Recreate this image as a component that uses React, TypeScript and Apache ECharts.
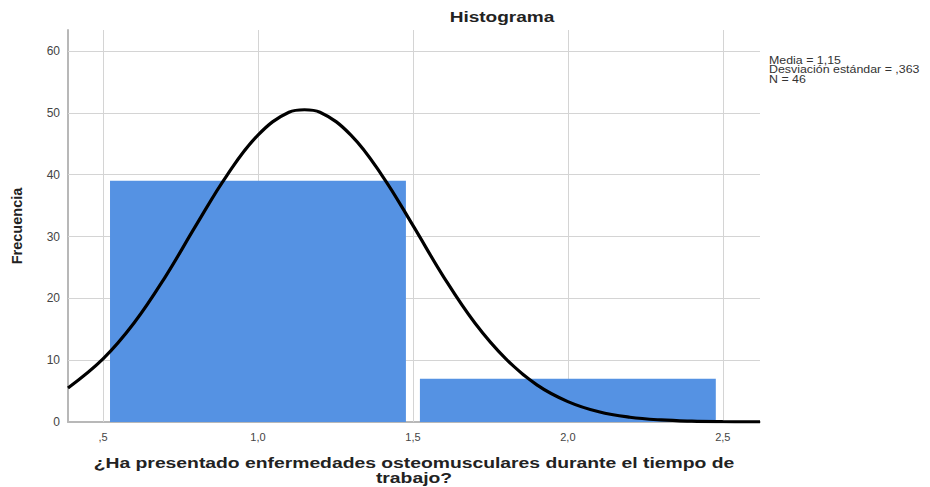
import React, { useEffect, useRef } from "react";
import * as echarts from "echarts";

const binStarts = [0.5, 1.5];
const binEnds = [1.5, 2.5];
const frequencies = [39, 7];

const curveX = [0.387, 0.5, 0.6, 0.7, 0.8, 0.9, 1.0, 1.1, 1.15, 1.2, 1.3, 1.4, 1.5, 1.6, 1.7, 1.8, 1.9, 2.0, 2.1, 2.2, 2.3, 2.4, 2.5, 2.62];
const curveY = [5.5, 10.2, 16.0, 23.4, 31.8, 39.9, 46.4, 50.1, 50.5, 50.1, 46.4, 39.9, 31.8, 23.4, 16.0, 10.2, 6.0, 3.3, 1.65, 0.77, 0.33, 0.13, 0.05, 0.01];

const xTickValues = [0.5, 1.0, 1.5, 2.0, 2.5];
const xTickLabels = [",5", "1,0", "1,5", "2,0", "2,5"];
const yTickValues = [0, 10, 20, 30, 40, 50, 60];

const titleText = "Histograma";
const xAxisTitleLines = ["¿Ha presentado enfermedades osteomusculares durante el tiempo de", "trabajo?"];
const yAxisTitle = "Frecuencia";
const statsLines = ["Media = 1,15", "Desviación estándar = ,363", "N = 46"];

const FONT = "'Liberation Sans', Arial, sans-serif";

export default function App() {
  const ref = useRef<HTMLDivElement>(null);
  useEffect(() => {
    if (!ref.current) return;
    const chart = echarts.init(ref.current, null, { renderer: "svg" });
    const barData = binStarts.map((s, i) => [s, binEnds[i], frequencies[i]]);
    const lineData = curveX.map((x, i) => [x, curveY[i]]);
    chart.setOption({
      animation: false,
      backgroundColor: "#ffffff",
      textStyle: { fontFamily: FONT },
      grid: { left: 68, right: 170, top: 30, bottom: 65, containLabel: false, outerBoundsMode: "none" },
      xAxis: {
        type: "value",
        min: 0.387,
        max: 2.62,
        axisLine: { show: true, lineStyle: { color: "#b8b8b8", width: 2 } },
        axisTick: { show: false },
        splitLine: { show: false },
        axisLabel: {
          customValues: xTickValues,
          color: "#444",
          fontSize: 11,
          margin: 9,
          formatter: (v: number) => {
            const idx = xTickValues.findIndex((t) => Math.abs(t - v) < 1e-6);
            return idx >= 0 ? xTickLabels[idx] : "";
          },
        },
      },
      yAxis: {
        type: "value",
        min: 0,
        max: 63.4,
        interval: 10,
        name: yAxisTitle,
        nameLocation: "middle",
        nameGap: 44,
        nameTextStyle: { fontSize: 14.5, fontWeight: "bold", color: "#222", fontFamily: FONT },
        axisLine: { show: true, lineStyle: { color: "#b8b8b8", width: 2 } },
        axisTick: { show: false },
        splitLine: { show: false },
        axisLabel: { customValues: yTickValues, color: "#444", fontSize: 12, margin: 8 },
      },
      graphic: [
        {
          type: "text",
          x: 502,
          y: 17,
          scaleX: 1.36,
          style: { text: titleText, fontSize: 14, fontWeight: "bold", fill: "#222", fontFamily: FONT, align: "center", verticalAlign: "middle" },
        },
        ...xAxisTitleLines.map((t, i) => ({
          type: "text",
          x: 414,
          y: 463 + i * 15,
          scaleX: 1.38,
          style: { text: t, fontSize: 14, fontWeight: "bold", fill: "#222", fontFamily: FONT, align: "center", verticalAlign: "middle" },
        })),
        ...statsLines.map((t, i) => ({
          type: "text",
          x: 769,
          y: 60 + i * 9.5,
          scaleX: 1.24,
          style: { text: t, fontSize: 10, fill: "#333", fontFamily: FONT, align: "left", verticalAlign: "middle" },
        })),
      ],
      series: [
        {
          type: "line",
          data: [],
          z: 1,
          silent: true,
          markLine: {
            z: 1,
            silent: true,
            symbol: "none",
            label: { show: false },
            lineStyle: { color: "#d4d4d4", width: 1, type: "solid" },
            data: [
              ...xTickValues.map((v) => ({ xAxis: v })),
              ...yTickValues.filter((v) => v > 0).map((v) => ({ yAxis: v })),
            ],
          },
        },
        {
          type: "custom",
          z: 10,
          data: barData,
          encode: { x: [0, 1], y: 2 },
          renderItem: (params: any, api: any) => {
            const x0 = api.value(0);
            const x1 = api.value(1);
            const y = api.value(2);
            const p0 = api.coord([x0, y]);
            const p1 = api.coord([x1, 0]);
            return {
              type: "rect",
              shape: { x: p0[0] + 7, y: p0[1], width: p1[0] - p0[0] - 14, height: p1[1] - p0[1] },
              style: { fill: "#5592e3" },
            };
          },
        },
        {
          type: "line",
          z: 11,
          data: lineData,
          smooth: 0.4,
          showSymbol: false,
          symbol: "none",
          lineStyle: { color: "#000", width: 3.2 },
        },
      ],
    });
    return () => chart.dispose();
  }, []);
  return <div ref={ref} style={{ position: "fixed", left: 0, top: 0, width: 930, height: 487 }} />;
}
